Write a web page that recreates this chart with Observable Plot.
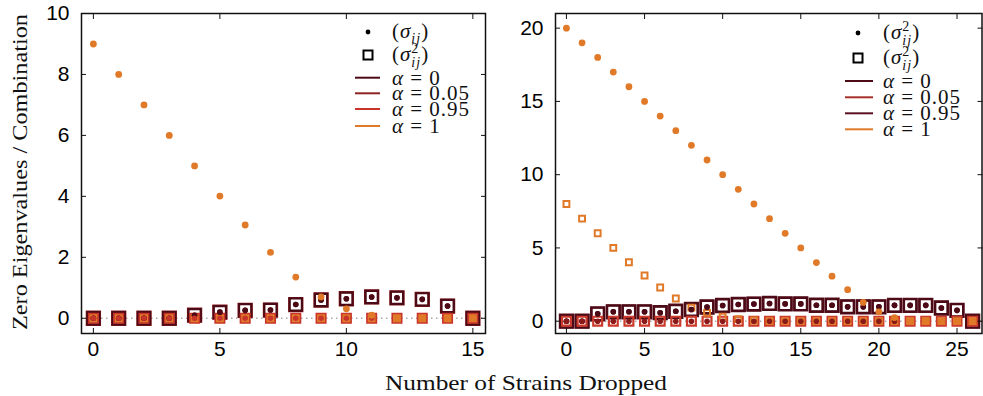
<!DOCTYPE html>
<html><head><meta charset="utf-8">
<script src="https://cdn.jsdelivr.net/npm/d3@7"></script>
<script src="https://cdn.jsdelivr.net/npm/@observablehq/plot@0.6"></script>
<style>
html,body{margin:0;padding:0;background:#fff;}
#wrap{position:relative;width:983px;height:396px;overflow:hidden;background:#fff;}
#wrap > svg{position:absolute;top:0;}
</style></head><body><div id="wrap"></div>
<script>
// ---------- data ----------
const xLeft = [0,1,2,3,4,5,6,7,8,9,10,11,12,13,14,15];
const leftA0     = [0,0,0,0,0.1,0.2,0.26,0.27,0.45,0.6,0.64,0.7,0.67,0.62,0.4,0];
const leftA005   = [0,0,0,0,0.1,0.2,0.26,0.27,0.45,0.6,0.64,0.7,0.67,0.62,0.4,0];
const leftA095   = [0,0,0,0,0,0,0,0,0,0,0,0,0,0,0,0];
const leftA1Sig  = [9,8,7,6,5,4.01,3.06,2.16,1.35,0.7,0.31,0.1,0,0,0,0];
const leftA1Sig2 = [0,0,0,0,0,0,0,0,0,0,0,0,0,0,0,0];

const xRight = [0,1,2,3,4,5,6,7,8,9,10,11,12,13,14,15,16,17,18,19,20,21,22,23,24,25,26];
const rightA0     = [0,0,0.5,0.64,0.64,0.64,0.58,0.68,0.8,0.97,1.07,1.14,1.17,1.21,1.18,1.18,1.09,1.09,0.98,0.98,0.98,1.08,1.08,1.08,0.9,0.74,0];
const rightA095   = [0,0,0.5,0.64,0.64,0.64,0.58,0.68,0.8,0.97,1.07,1.14,1.17,1.21,1.18,1.18,1.09,1.09,0.98,0.98,0.98,1.08,1.08,1.08,0.9,0.74,0];
const rightA005   = [0,0,0,0,0,0,0,0,0,0,0,0,0,0,0,0,0,0,0,0,0,0,0,0,0,0,0];
const rightA1Sig  = [20,19,18,17,16,15,14,13,12,11,10,9,8,7,6,5,4,3.07,2.15,1.28,0.64,0.25,0,0,0,0,0];
const rightA1Sig2 = [8,7,6,5,4.02,3.12,2.3,1.55,0.93,0.57,0.3,0.14,0.05,0,0,0,0,0,0,0,0,0,0,0,0,0,0];

const xTicksL = [0,5,10,15];
const yTicksL = [0,2,4,6,8,10];
const xTicksR = [0,5,10,15,20,25];
const yTicksR = [0,5,10,15,20];

const legendLabelsL = ["α = 0","α = 0.05","α = 0.95","α = 1"];
const legendLabelsR = ["α = 0","α = 0.05","α = 0.95","α = 1"];
const legendColorsL = ["#4b0a15","#8e2222","#c8342a","#e07a28"];
const legendColorsR = ["#4b0a15","#a8302c","#5a1020","#e07a28"];

const xTitle = "Number of Strains Dropped";
const yTitle = "Zero Eigenvalues / Combination";

// ---------- helpers ----------
const rows = (xs, vs) => xs.map((x,i)=>({x, v: vs[i]}));
const MAROON="#4b0a15", DKRED="#8a1a1a", RED="#c8342a", ORANGE="#e07a28";

function panel({xs, series, xDomain, yDomain, xTicks, yTicks, width, marginLeft, marginRight}) {
  const marks = [
    Plot.ruleY([0], {stroke:"#aaaaaa", strokeWidth:1.5, strokeDasharray:"1.5,3.5"})
  ];
  for (const s of series) {
    marks.push(Plot.dot(rows(xs, s.sq), {x:"x", y:"v", symbol:"square", r:s.r, fill:"none", stroke:s.color, strokeWidth:s.sw || 2.2}));
  }
  for (const s of series) {
    marks.push(Plot.dot(rows(xs, s.dot), {x:"x", y:"v", r:s.dr || 2.8, fill:s.dotColor || s.color, stroke:"none"}));
  }
  marks.push(
    Plot.frame({stroke:"#111", strokeWidth:1.5}),
    Plot.axisX({anchor:"bottom", ticks:xTicks, tickSize:-5, tickPadding:13, label:null, stroke:"#111"}),
    Plot.axisX({anchor:"top", ticks:xTicks, tickSize:-5, tickFormat:()=>"", label:null, stroke:"#111"}),
    Plot.axisY({anchor:"left", ticks:yTicks, tickSize:-5, tickPadding:17, label:null, stroke:"#111"}),
    Plot.axisY({anchor:"right", ticks:yTicks, tickSize:-5, tickFormat:()=>"", label:null, stroke:"#111"})
  );
  return Plot.plot({
    width, height:368,
    marginLeft, marginRight, marginTop:13, marginBottom:35,
    x:{domain:xDomain, label:null},
    y:{domain:yDomain, label:null},
    style:{fontFamily:"'Liberation Sans', Arial, sans-serif", fontSize:"21px", color:"#000", background:"transparent", overflow:"visible"},
    marks
  });
}

const left = panel({
  xs:xLeft, xDomain:[-0.47,15.5], yDomain:[-0.5,10], xTicks:xTicksL, yTicks:yTicksL,
  width:490, marginLeft:81, marginRight:5,
  series:[
    {sq:leftA005, dot:leftA005, color:DKRED, r:7.4},
    {sq:leftA0,   dot:leftA0,   color:MAROON, r:6.9},
    {sq:leftA095, dot:leftA095, color:RED, r:5.0},
    {sq:leftA1Sig2, dot:leftA1Sig, color:ORANGE, r:3.3, sw:2, dr:3.4}
  ]
});
left.style.left = "0px";

const right = panel({
  xs:xRight, xDomain:[-0.7,26.6], yDomain:[-0.84,21], xTicks:xTicksR, yTicks:yTicksR,
  width:493, marginLeft:65, marginRight:1.5,
  series:[
    {sq:rightA095, dot:rightA095, color:"#5a1020", r:7.4},
    {sq:rightA0,   dot:rightA0,   color:MAROON, r:6.9},
    {sq:rightA005, dot:rightA005, color:"#cc3a2c", r:5.0, dotColor:"#8a1a1a"},
    {sq:rightA1Sig2, dot:rightA1Sig, color:ORANGE, r:3.3, sw:2, dr:3.4}
  ]
});
right.style.left = "490px";

const wrap = document.getElementById("wrap");
wrap.appendChild(left);
wrap.appendChild(right);

// ---------- overlay: titles and legends ----------
const ov = d3.create("svg").attr("width",983).attr("height",396)
  .style("left","0px").style("pointer-events","none");
const SERIF = "'Liberation Serif', 'DejaVu Serif', serif";

ov.append("text").attr("x",526).attr("y",390).attr("text-anchor","middle")
  .attr("font-family",SERIF).attr("font-size",21).attr("textLength",282).attr("lengthAdjust","spacingAndGlyphs")
  .attr("fill","#111").text(xTitle);
ov.append("text").attr("transform","translate(27,172) rotate(-90)").attr("text-anchor","middle")
  .attr("font-family",SERIF).attr("font-size",21).attr("textLength",316).attr("lengthAdjust","spacingAndGlyphs")
  .attr("fill","#111").text(yTitle);

function legend(cfg) {
  const g = ov.append("g").attr("font-family",SERIF).attr("fill","#111").attr("letter-spacing","1px");
  g.append("circle").attr("cx",cfg.mx).attr("cy",cfg.y1).attr("r",2.4).attr("fill","#000");
  const t1 = g.append("text").attr("x",cfg.tx).attr("y",cfg.y1+6).attr("font-size",21);
  t1.append("tspan").text("(");
  t1.append("tspan").attr("font-style","italic").text("σ");
  if (cfg.firstSquared) {
    t1.append("tspan").attr("font-size",14).attr("dy",-8).text("2");
    t1.append("tspan").attr("font-size",14).attr("font-style","italic").attr("dx",-8).attr("dy",14).text("ij");
    t1.append("tspan").attr("dy",-6).text(")");
  } else {
    t1.append("tspan").attr("font-size",14).attr("font-style","italic").attr("dy",5).text("ij");
    t1.append("tspan").attr("dy",-5).text(")");
  }
  g.append("rect").attr("x",cfg.mx-4.5).attr("y",cfg.y2-4.5).attr("width",9).attr("height",9)
    .attr("fill","none").attr("stroke","#000").attr("stroke-width",2);
  const t2 = g.append("text").attr("x",cfg.tx).attr("y",cfg.y2+6).attr("font-size",21);
  t2.append("tspan").text("(");
  t2.append("tspan").attr("font-style","italic").text("σ");
  t2.append("tspan").attr("font-size",14).attr("dy",-8).text("2");
  t2.append("tspan").attr("font-size",14).attr("font-style","italic").attr("dx",-8).attr("dy",14).text("ij");
  t2.append("tspan").attr("dy",-6).text(")");
  cfg.labels.forEach((lab,i)=>{
    const y = cfg.ly[i];
    g.append("line").attr("x1",cfg.lx1).attr("x2",cfg.lx2).attr("y1",y).attr("y2",y)
      .attr("stroke",cfg.colors[i]).attr("stroke-width",2);
    const t = g.append("text").attr("x",cfg.tx).attr("y",y+7).attr("font-size",21);
    t.append("tspan").attr("font-style","italic").text(lab.slice(0,1));
    t.append("tspan").text(lab.slice(1));
  });
}
legend({mx:368, y1:32, y2:55, tx:392, lx1:355, lx2:380, ly:[77.7,93.3,109,126], labels:legendLabelsL, colors:legendColorsL, firstSquared:false});
legend({mx:858, y1:33, y2:58, tx:883, lx1:845, lx2:873, ly:[81,97.3,113.3,129.3], labels:legendLabelsR, colors:legendColorsR, firstSquared:true});

wrap.appendChild(ov.node());
</script>
</body></html>
